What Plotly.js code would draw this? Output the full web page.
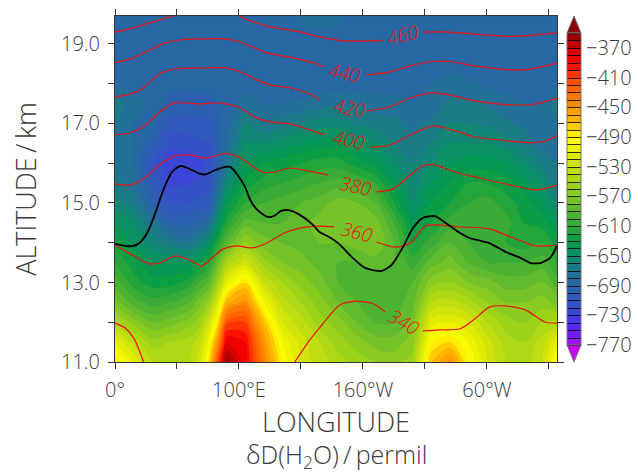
<!DOCTYPE html>
<html><head><meta charset="utf-8">
<script src="https://cdn.plot.ly/plotly-3.0.1.min.js"></script>
<style>html,body{margin:0;padding:0;background:#fff}#c{width:638px;height:474px}</style>
</head><body><div id="c"></div>
<script>
const altitude=[11,11.5,12,12.5,13,13.5,14,14.5,15,15.5,16,16.5,17,17.5,18,18.5,19,19.7];
const longitude=[0,15,30,45,60,68,75,82,90,105,120,135,150,165,180,195,210,225,240,255,270,285,300,315,330,345,356.5];
const deltaD=[
[-480,-510,-545,-575,-595,-610,-625,-640,-655,-665,-670,-675,-670,-665,-680,-688,-688,-688],
[-510,-535,-565,-595,-615,-625,-640,-650,-665,-675,-680,-680,-680,-675,-685,-688,-688,-688],
[-540,-555,-580,-605,-625,-640,-655,-670,-692,-700,-708,-695,-685,-682,-685,-688,-688,-688],
[-545,-550,-575,-600,-625,-640,-665,-692,-710,-722,-728,-715,-705,-692,-688,-688,-688,-688],
[-540,-545,-565,-590,-615,-640,-670,-692,-710,-720,-725,-715,-705,-693,-688,-688,-688,-688],
[-525,-535,-555,-575,-600,-630,-660,-685,-707,-717,-722,-712,-703,-692,-688,-688,-688,-688],
[-490,-505,-530,-560,-590,-620,-650,-680,-705,-715,-718,-710,-703,-692,-688,-688,-688,-688],
[-420,-455,-490,-525,-560,-585,-620,-650,-672,-685,-695,-695,-692,-690,-688,-688,-688,-688],
[-355,-380,-415,-465,-510,-550,-590,-615,-635,-655,-670,-680,-685,-688,-688,-688,-688,-688],
[-385,-390,-410,-445,-480,-525,-560,-585,-610,-625,-640,-650,-660,-675,-685,-688,-688,-688],
[-440,-450,-470,-500,-530,-555,-575,-590,-600,-615,-630,-650,-670,-680,-688,-688,-688,-688],
[-490,-500,-520,-535,-550,-570,-580,-590,-595,-610,-625,-645,-665,-680,-688,-688,-688,-685],
[-525,-525,-535,-550,-565,-575,-585,-585,-590,-605,-620,-640,-660,-678,-688,-688,-685,-678],
[-535,-540,-555,-565,-575,-585,-580,-575,-585,-600,-615,-635,-655,-675,-685,-688,-685,-675],
[-545,-555,-565,-580,-590,-590,-580,-570,-575,-595,-615,-635,-655,-672,-685,-688,-686,-678],
[-555,-565,-580,-590,-595,-590,-575,-570,-580,-600,-625,-645,-660,-672,-685,-688,-688,-686],
[-560,-575,-590,-595,-595,-585,-570,-575,-590,-610,-635,-650,-665,-675,-685,-688,-688,-688],
[-565,-575,-590,-595,-590,-590,-590,-600,-620,-635,-650,-660,-668,-675,-685,-688,-688,-688],
[-555,-565,-575,-585,-590,-605,-620,-635,-650,-655,-660,-668,-672,-680,-686,-688,-688,-688],
[-470,-490,-515,-540,-565,-585,-605,-620,-630,-640,-650,-660,-668,-675,-680,-685,-688,-688],
[-445,-480,-510,-535,-560,-575,-590,-605,-620,-630,-640,-650,-660,-668,-675,-683,-688,-688],
[-490,-500,-520,-545,-570,-590,-600,-605,-610,-620,-635,-650,-660,-668,-678,-686,-688,-688],
[-520,-525,-540,-560,-575,-600,-605,-600,-605,-620,-635,-650,-662,-672,-682,-688,-688,-688],
[-540,-545,-555,-570,-585,-600,-610,-605,-615,-625,-640,-655,-668,-675,-685,-688,-688,-688],
[-545,-550,-560,-570,-585,-600,-615,-620,-625,-635,-650,-665,-672,-680,-686,-688,-688,-688],
[-530,-535,-550,-565,-580,-595,-610,-625,-640,-650,-665,-675,-672,-680,-686,-688,-688,-688],
[-480,-510,-545,-575,-595,-610,-625,-640,-655,-665,-670,-675,-670,-665,-680,-688,-688,-688]
];
const barStops=[-350,-370,-390,-410,-430,-450,-470,-490,-510,-530,-550,-570,-590,-610,-630,-650,-670,-690,-710,-730,-750,-770];
const barColors=['#8B0000','#CC0000','#FF0000','#FF4500','#FF7000','#FF9500','#FFBB00','#FFFF00','#E8F000','#C8E010','#A5D515','#7FC825','#55B530','#30A838','#009B48','#0C8C6C','#1F7590','#2A62AA','#3355C0','#4040E0','#6020F8','#B010F8'];
const barTicks=[-370,-410,-450,-490,-530,-570,-610,-650,-690,-730,-770];
const barLabels=['\u2212370','\u2212410','\u2212450','\u2212490','\u2212530','\u2212570','\u2212610','\u2212650','\u2212690','\u2212730','\u2212770'];

const lon460=[0,12,28,46,60,80,100,101,123,150,165,181,200,216,null,248,270,290,319,356.5];
const alt460=[19.30,19.38,19.53,19.70,19.82,19.9,19.82,19.70,19.45,19.30,19.18,19.09,19.07,19.09,null,19.30,19.30,19.25,19.19,19.28];
const lon440=[0,12,28,40,52,69,89,101,123,141,165,168,null,202,222,238,256,270,290,319,335,356.5];
const alt440=[18.53,18.62,18.85,19.02,19.10,19.13,19.13,19.05,18.77,18.67,18.47,18.42,null,18.22,18.30,18.45,18.56,18.56,18.45,18.35,18.37,18.52];
const lon420=[0,12,24,36,48,69,89,101,113,125,141,157,165,null,203,222,238,256,270,290,319,339,356.5];
const alt420=[17.67,17.74,17.92,18.25,18.37,18.40,18.40,18.30,18.12,17.97,17.90,17.74,17.59,null,17.31,17.42,17.64,17.77,17.72,17.57,17.47,17.49,17.64];
const lon400=[0,12,24,36,48,69,85,101,113,125,141,157,169,null,206,222,238,256,270,290,319,335,347,356.5];
const alt400=[16.72,16.76,16.94,17.29,17.52,17.49,17.52,17.39,17.16,17.04,16.99,16.84,16.71,null,16.40,16.46,16.71,16.94,16.86,16.66,16.56,16.52,16.56,16.69];
const lon380=[0,12,24,36,48,60,73,89,101,113,119,129,141,157,172,null,211,224,238,248,258,274,294,319,340,356.5];
const alt380=[15.48,15.45,15.63,15.96,16.18,16.21,16.13,16.25,16.14,15.88,15.78,15.78,15.88,15.80,15.70,null,15.28,15.35,15.70,15.93,15.96,15.78,15.63,15.45,15.33,15.45];
const lon360=[0,12,28,36,49,65,69,87,98,110,121,137,149,165,177,null,211,226,238,250,258,278,302,319,339,356.5];
const alt360=[13.94,13.72,13.47,13.49,13.67,13.49,13.40,13.84,13.92,13.87,13.97,14.25,14.37,14.42,14.40,null,14.02,13.89,13.99,14.42,14.45,14.40,14.35,14.15,13.92,13.94];
const lon340=[0,8,16,23,null,145,157,165,181,194,200,208,218,null,248,262,278,290,302,315,331,347,355,356.5];
const alt340=[11.98,11.86,11.55,11.0,null,11.0,11.55,11.86,12.43,12.53,12.52,12.47,12.26,null,11.78,11.81,11.83,12.08,12.38,12.41,12.31,12.0,11.98,11.98];
const lonTropopause=[0,8,15,20,26,32,39,46,51,54,60,69,73,81,89,93,99,105,109,115,123,128,134,140,148,159,165,173,180,191,202,215,223,231,240,248,258,268,277,286,302,315,327,335,343,351,356.5];
const altTropopause=[13.97,13.92,13.92,14.0,14.25,14.70,15.33,15.78,15.91,15.93,15.86,15.73,15.72,15.83,15.91,15.91,15.70,15.40,15.08,14.82,14.65,14.67,14.80,14.82,14.72,14.47,14.27,14.14,13.99,13.64,13.36,13.29,13.44,13.82,14.35,14.62,14.67,14.47,14.27,14.12,13.99,13.77,13.62,13.49,13.49,13.62,13.92];
const labelText=['460','440','420','400','380','360','340'];
const labelLon=[232,185.5,189.5,189,194,195,233];
const labelAlt=[19.23,18.27,17.39,16.58,15.43,14.27,12.0];
const labelAngle=[-14,10,10,12,12,15,30];
const xTickVals=[0,50,100,150,200,250,300,350];
const xTickText=['0°','','100°E','','160°W','','60°W',''];
const yTickVals=[11,12,13,14,15,16,17,18,19];
const yTickText=['11.0','','13.0','','15.0','','17.0','','19.0'];

const W=638,H=474,L=115,R=557,T=16,B=362;
const px=x=>(x-L)/(R-L), py=y=>(B-y)/(B-T);
const colorscale=barStops.slice().reverse().map((s,i)=>[(s+770)/420,barColors.slice().reverse()[i]]);
const contourBase={x:longitude,y:altitude,z:deltaD,transpose:true,type:'contour',colorscale,zauto:false,zmin:-770,zmax:-350,autocontour:false,connectgaps:true,hoverinfo:'skip'};
const lev={start:-770,end:-350,size:10,coloring:'fill'};
const textColor='#3a3a3a';
const fontFam='"Open Sans","DejaVu Sans",sans-serif';
const lf=(s,c)=>({family:fontFam,size:s,color:c||textColor,weight:300});
const traces=[
 Object.assign({},contourBase,{contours:Object.assign({},lev,{showlines:true}),line:{color:'rgba(0,0,0,0.8)',width:1,smoothing:1},
  colorbar:{thickness:14,thicknessmode:'pixels',len:312,lenmode:'pixels',x:px(567),xanchor:'left',y:py(33),yanchor:'top',xpad:0,ypad:0,
   outlinecolor:'#777',outlinewidth:1,borderwidth:0,tickmode:'array',tickvals:barTicks,ticktext:barLabels,ticks:'',ticklen:0,
   tickfont:lf(20)}}),
 Object.assign({},contourBase,{contours:Object.assign({},lev,{showlines:false}),line:{width:0,smoothing:1},showscale:false})
];
const reds=[[lon460,alt460],[lon440,alt440],[lon420,alt420],[lon400,alt400],[lon380,alt380],[lon360,alt360],[lon340,alt340]];
reds.forEach(r=>traces.push({type:'scatter',mode:'lines',x:r[0],y:r[1],line:{color:'#F01010',width:1.2,shape:'spline',smoothing:0.7},hoverinfo:'skip',showlegend:false,connectgaps:false}));
traces.push({type:'scatter',mode:'lines',x:lonTropopause,y:altTropopause,line:{color:'#000',width:1.8,shape:'spline',smoothing:0.6},hoverinfo:'skip',showlegend:false});

const annotations=labelText.map((t,i)=>({text:t,x:labelLon[i],y:labelAlt[i],xref:'x',yref:'y',showarrow:false,textangle:labelAngle[i],font:Object.assign(lf(19,'#F01010'),{style:'italic'})}));
annotations.push({text:'δD(H<sub>2</sub>O)\u2009/\u2009permil',xref:'paper',yref:'paper',x:px(336),y:py(455),xanchor:'center',yanchor:'middle',showarrow:false,font:lf(25)});

const tri=(pts,fill)=>({type:'path',xref:'paper',yref:'paper',layer:'above',path:'M'+pts.map(p=>px(p[0])+','+py(p[1])).join(' L')+' Z',fillcolor:fill,line:{color:'#777',width:1}});
const layout={width:W,height:H,showlegend:false,paper_bgcolor:'#fff',plot_bgcolor:'#fff',
 margin:{l:L,r:W-R,t:T,b:H-B,pad:0,autoexpand:false},
 font:{family:fontFam,color:textColor},
 xaxis:{range:[0,356.5],tickmode:'array',tickvals:xTickVals,ticktext:xTickText,ticks:'outside',ticklen:6,tickwidth:1,tickcolor:'#333',
  showline:true,linecolor:'#333',linewidth:1,mirror:'ticks',showgrid:false,zeroline:false,tickangle:0,ticklabelstandoff:4,
  tickfont:lf(20),title:{text:'LONGITUDE',standoff:8,font:lf(27)}},
 yaxis:{range:[11,19.704],tickmode:'array',tickvals:yTickVals,ticktext:yTickText,ticks:'outside',ticklen:6,tickwidth:1,tickcolor:'#333',
  showline:true,linecolor:'#333',linewidth:1,mirror:'ticks',showgrid:false,zeroline:false,ticklabelstandoff:4,
  tickfont:lf(20),title:{text:'ALTITUDE\u2009/\u2009km',standoff:16,font:lf(27)}},
 annotations,
 shapes:[tri([[567,33],[581,33],[574,16]],'#8B0000'),tri([[567,345],[581,345],[574,362]],'#CC00FF')]
};
Plotly.newPlot('c',traces,layout,{displayModeBar:false,staticPlot:true});
</script></body></html>
